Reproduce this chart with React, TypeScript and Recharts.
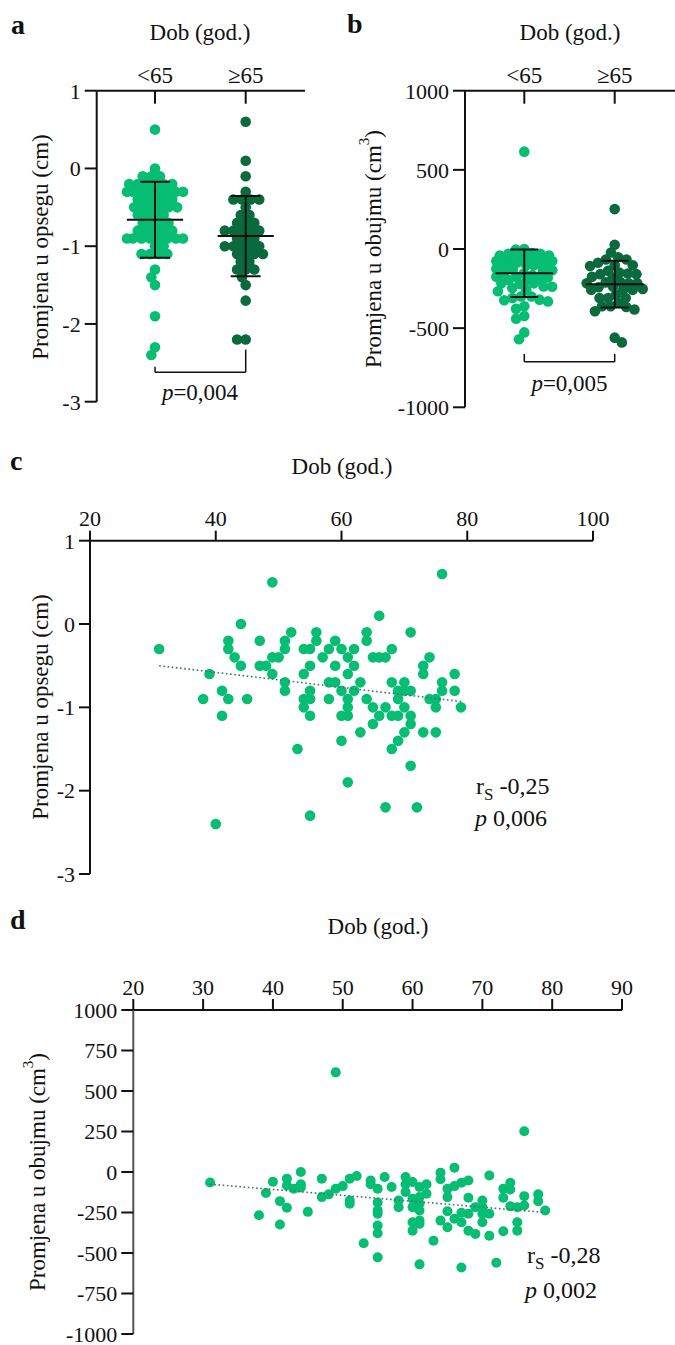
import React from 'react';
import { ScatterChart, Scatter, XAxis, YAxis } from 'recharts';

const FONT = "'Liberation Serif', 'DejaVu Serif', 'Times New Roman', serif";
const LIGHT = '#06bd74';
const DARK = '#0a693d';
const INK = '#111111';
const TREND = '#3c7566';

// ---- categories ----
const groupLabels = ['<65', '≥65'];
const ageCutoff = 65;

// ---- panel c / a : change in circumference (cm) vs age ----
const circAges = [
  31, 38, 39, 40, 41, 41, 42, 42, 42, 43, 44, 44, 45, 47, 47, 48, 49, 49, 49, 50,
  51, 51, 51, 51, 52, 53, 54, 54, 54, 54, 55, 55, 55, 55, 55, 55, 56, 56, 57, 58,
  58, 58, 59, 59, 59, 60, 60, 60, 60, 61, 61, 61, 61, 61, 61, 62, 62, 62, 63, 63,
  64, 64, 64, 65, 65, 65, 66, 66, 66, 67, 67, 67, 68, 68, 68, 68, 69, 69, 69, 69,
  70, 70, 70, 70, 71, 71, 71, 71, 71, 72, 73, 73, 73, 74, 74, 75, 75, 75, 76, 76,
  76, 78, 78, 79,
];
const circChange = [
  -0.3, -0.9, -0.6, -2.4, -0.8, -1.1, -0.2, -0.3, -0.9, -0.4, 0.0, -0.5, -0.9, -0.2, -0.5, -0.5, 0.5, -0.4, -0.6, -0.4,
  -0.2, -0.3, -0.7, -0.8, -0.1, -1.5, -0.3, -0.6, -0.9, -1.0, -0.3, -0.5, -0.8, -0.9, -1.1, -2.3, -0.1, -0.2, -0.4, -0.3,
  -0.7, -0.9, -0.2, -0.5, -0.7, -0.3, -0.8, -1.1, -1.4, -0.4, -0.6, -0.9, -1.0, -1.1, -1.9, -0.3, -0.5, -0.8, -0.7, -1.3,
  -0.1, -0.2, -0.9, -0.4, -1.0, -1.2, 0.1, -0.4, -1.1, -0.4, -1.0, -2.2, -0.3, -0.7, -1.1, -1.5, -0.8, -0.9, -1.1, -1.4,
  -0.7, -0.8, -1.0, -1.3, -0.1, -0.8, -1.1, -1.2, -1.7, -2.2, -0.5, -0.6, -1.3, -0.4, -0.9, -0.9, -1.0, -1.3, 0.6, -0.7,
  -0.8, -0.6, -0.8, -1.0,
];

// ---- panel d / b : change in volume (cm3) vs age ----
const volAges = [
  31, 38, 39, 40, 41, 41, 42, 42, 42, 43, 44, 44, 44, 45, 47, 47, 48, 49, 49, 50,
  51, 51, 51, 52, 53, 54, 54, 55, 55, 55, 55, 55, 55, 55, 56, 57, 58, 58, 59, 59,
  59, 60, 60, 60, 60, 60, 61, 61, 61, 61, 61, 61, 61, 62, 62, 63, 64, 64, 64, 65,
  65, 65, 65, 66, 66, 66, 67, 67, 67, 67, 68, 68, 68, 68, 69, 69, 70, 70, 70, 70,
  71, 71, 71, 72, 73, 73, 73, 74, 74, 74, 75, 75, 75, 76, 76, 76, 78, 78, 79,
];
const volChange = [
  -65, -267, -130, -60, -180, -324, -41, -83, -221, -103, 0, -76, -95, -246, -41, -155, -138, 615, -103, -87,
  -41, -176, -196, -25, -440, -76, -52, -103, -188, -237, -257, -331, -378, -527, -31, -93, -176, -217, -31, -76,
  -124, -62, -165, -217, -310, -362, -93, -155, -196, -238, -300, -320, -570, -76, -134, -424, -4, -45, -300, -103,
  -155, -242, -341, 27, -87, -289, -66, -252, -310, -590, -52, -159, -258, -362, -217, -382, -176, -217, -258, -310,
  -22, -258, -393, -560, -103, -159, -366, -66, -108, -211, -217, -310, -362, 252, -149, -207, -138, -180, -238,
];

// ---- summary statistics ----
const circGroupMean = [-0.66, -0.87];
const circGroupSD = [0.49, 0.515];
const volGroupMean = [-153, -222];
const volGroupSD = [150, 148];

// ---- regression (trend) lines ----
const circTrendAges = [31, 79];
const circTrendValues = [-0.5, -0.93];
const volTrendAges = [31, 79];
const volTrendValues = [-75, -250];

// ---- significance brackets: [bar level, left end, right end] ----
const circBracket = [-2.62, -2.55, -2.33];
const volBracket = [-712, -663, -663];

// ---- tick values ----
const circTicks = [1, 0, -1, -2, -3];
const volTicksB = [1000, 500, 0, -500, -1000];
const ageTicksC = [20, 40, 60, 80, 100];
const ageTicksD = [20, 30, 40, 50, 60, 70, 80, 90];
const volTicksD = [1000, 750, 500, 250, 0, -250, -500, -750, -1000];

// ---- beeswarm layout (pixel based collision avoidance, capped width) ----
function swarm(values: number[], pxPerY: number, pxPerX: number, dist: number, maxHalf: number): number[] {
  const order = values.map((_, i) => i).sort((a, b) => values[b] - values[a]);
  const placed: { x: number; y: number }[] = [];
  const out: number[] = new Array(values.length).fill(0);
  let flip = 1;
  for (const i of order) {
    const y = values[i] * pxPerY;
    const cands: number[] = [0];
    for (const q of placed) {
      const dy = Math.abs(y - q.y);
      if (dy < dist) {
        const dx = Math.sqrt(dist * dist - dy * dy) + 0.01;
        cands.push(q.x + dx, q.x - dx);
      }
    }
    cands.sort((a, b) => Math.abs(a) - Math.abs(b) || (a - b) * flip);
    flip = -flip;
    let best: number | null = null;
    for (const c of cands) {
      if (Math.abs(c) > maxHalf) continue;
      let ok = true;
      for (const q of placed) {
        const ddx = c - q.x;
        const ddy = y - q.y;
        if (ddx * ddx + ddy * ddy < dist * dist - 0.05) {
          ok = false;
          break;
        }
      }
      if (ok) {
        best = c;
        break;
      }
    }
    if (best === null) {
      let bestScore = -1;
      let bestC = 0;
      for (let c = -maxHalf; c <= maxHalf + 0.001; c += 0.5) {
        let md = Infinity;
        for (const q of placed) {
          const d = (c - q.x) ** 2 + (y - q.y) ** 2;
          if (d < md) md = d;
        }
        if (md > bestScore + 1e-6 || (Math.abs(md - bestScore) < 1e-6 && Math.abs(c) < Math.abs(bestC))) {
          bestScore = md;
          bestC = c;
        }
      }
      best = bestC;
    }
    placed.push({ x: best, y });
    out[i] = best / pxPerX;
  }
  return out;
}

function buildGroups(ages: number[], vals: number[], pxY: number, pxX: number, dist: number, maxHalf: number) {
  return groupLabels.map((_, g) => {
    const v = vals.filter((__, i) => (g === 0 ? ages[i] < ageCutoff : ages[i] >= ageCutoff));
    const off = swarm(v, pxY, pxX, dist, maxHalf);
    return v.map((y, i) => ({ x: g + off[i], y }));
  });
}

const circGroups = buildGroups(circAges, circChange, 77.75, 90.7, 8.6, 28);
const volGroups = buildGroups(volAges, volChange, 0.1583, 90.4, 8.6, 28);
const circPoints = circAges.map((a, i) => ({ x: a, y: circChange[i] }));
const volPoints = volAges.map((a, i) => ({ x: a, y: volChange[i] }));
const groupIdx = groupLabels.map((_, i) => i);

const dot = (fill: string, r: number) => (p: any) =>
  p.cx == null ? <g /> : <circle cx={p.cx} cy={p.cy} r={r} fill={fill} />;
const noDot = () => <g />;

const CatTick = (props: any) => {
  const { x, y, payload } = props;
  return (
    <g>
      <line x1={x} y1={y} x2={x} y2={y + 13} stroke={INK} strokeWidth={2} />
      <text x={x} y={y - 8} textAnchor="middle" fontFamily={FONT} style={{ fontFamily: FONT }} fontSize={23} fill={INK}>
        {groupLabels[payload.value]}
      </text>
    </g>
  );
};

const axisStyle = { stroke: INK, strokeWidth: 2 };
const tickStyle = { fill: INK, fontSize: 22, fontFamily: FONT, style: { fontFamily: FONT } };

type Pt = { x: number; y: number };
// a segment drawn as a two-point Scatter line (through the chart's scales), no markers
const seg = (key: string, a: Pt, b: Pt, stroke: string, width: number, dash?: string) => (
  <Scatter key={key} data={[a, b]} line={{ stroke, strokeWidth: width, strokeDasharray: dash }} shape={noDot}
    isAnimationActive={false} />
);

function meanSd(means: number[], sds: number[], halfMean: number, halfCap: number) {
  return means.flatMap((m, g) => [
    seg(`m${g}`, { x: g - halfMean, y: m }, { x: g + halfMean, y: m }, INK, 2),
    seg(`v${g}`, { x: g, y: m - sds[g] }, { x: g, y: m + sds[g] }, INK, 2),
    seg(`t${g}`, { x: g - halfCap, y: m + sds[g] }, { x: g + halfCap, y: m + sds[g] }, INK, 2),
    seg(`b${g}`, { x: g - halfCap, y: m - sds[g] }, { x: g + halfCap, y: m - sds[g] }, INK, 2),
  ]);
}

function bracket(b: number[]) {
  return [
    seg('bh', { x: 0, y: b[0] }, { x: 1, y: b[0] }, INK, 1.5),
    seg('bl', { x: 0, y: b[0] }, { x: 0, y: b[1] }, INK, 1.5),
    seg('br', { x: 1, y: b[0] }, { x: 1, y: b[2] }, INK, 1.5),
  ];
}

const T = (p: any) => <text fontFamily={FONT} style={{ fontFamily: FONT }} fill={INK} {...p} />;

export default function App() {
  return (
    <div style={{ position: 'absolute', left: 0, top: 0, width: 675, height: 1345, background: '#fff', fontFamily: FONT }}>
      {/* panel a */}
      <div style={{ position: 'absolute', left: 0, top: 0 }}>
        <ScatterChart width={340} height={430} margin={{ top: 0, right: 35, bottom: 28.3, left: 0 }}>
          <XAxis type="number" dataKey="x" orientation="top" domain={[-0.643, 1.654]} ticks={groupIdx} height={90.7}
            tickSize={0} tickMargin={0} tickLine={false} axisLine={axisStyle} tick={CatTick} interval={0} allowDataOverflow />
          <YAxis type="number" dataKey="y" domain={[-3, 1]} ticks={circTicks} width={96.7} tickSize={12} tickMargin={4}
            axisLine={axisStyle} tickLine={axisStyle} tick={tickStyle} interval={0} allowDataOverflow />
          <Scatter data={circGroups[0]} shape={dot(LIGHT, 5.3)} isAnimationActive={false} />
          <Scatter data={circGroups[1]} shape={dot(DARK, 5.3)} isAnimationActive={false} />
          {meanSd(circGroupMean, circGroupSD, 0.31, 0.165)}
          {bracket(circBracket)}
        </ScatterChart>
      </div>
      {/* panel b */}
      <div style={{ position: 'absolute', left: 340, top: 0 }}>
        <ScatterChart width={335} height={430} margin={{ top: 0, right: 0, bottom: 22.7, left: 0 }}>
          <XAxis type="number" dataKey="x" orientation="top" domain={[-0.656, 1.667]} ticks={groupIdx} height={90.7}
            tickSize={0} tickMargin={0} tickLine={false} axisLine={axisStyle} tick={CatTick} interval={0} allowDataOverflow />
          <YAxis type="number" dataKey="y" domain={[-1000, 1000]} ticks={volTicksB} width={125} tickSize={12} tickMargin={4}
            axisLine={axisStyle} tickLine={axisStyle} tick={tickStyle} interval={0} allowDataOverflow />
          <Scatter data={volGroups[0]} shape={dot(LIGHT, 5.3)} isAnimationActive={false} />
          <Scatter data={volGroups[1]} shape={dot(DARK, 5.3)} isAnimationActive={false} />
          {meanSd(volGroupMean, volGroupSD, 0.32, 0.155)}
          {bracket(volBracket)}
        </ScatterChart>
      </div>
      {/* panel c */}
      <div style={{ position: 'absolute', left: 0, top: 440 }}>
        <ScatterChart width={675} height={455} margin={{ top: 0, right: 82, bottom: 21, left: 0 }}>
          <XAxis type="number" dataKey="x" orientation="top" domain={[20, 100]} ticks={ageTicksC} height={100.7}
            tickSize={10} tickMargin={5} axisLine={axisStyle} tickLine={axisStyle} tick={tickStyle} interval={0} allowDataOverflow />
          <YAxis type="number" dataKey="y" domain={[-3, 1]} ticks={circTicks} width={90} tickSize={11} tickMargin={4}
            axisLine={axisStyle} tickLine={axisStyle} tick={tickStyle} interval={0} allowDataOverflow />
          <Scatter data={circPoints} shape={dot(LIGHT, 5.3)} isAnimationActive={false} />
          {seg('trendC', { x: circTrendAges[0], y: circTrendValues[0] }, { x: circTrendAges[1], y: circTrendValues[1] }, TREND, 1.6, '1.6 2.6')}
        </ScatterChart>
      </div>
      {/* panel d */}
      <div style={{ position: 'absolute', left: 0, top: 900 }}>
        <ScatterChart width={675} height={445} margin={{ top: 0, right: 53, bottom: 11, left: 0 }}>
          <XAxis type="number" dataKey="x" orientation="top" domain={[20, 90]} ticks={ageTicksD} height={110}
            tickSize={11} tickMargin={4} axisLine={axisStyle} tickLine={axisStyle} tick={tickStyle} interval={0} allowDataOverflow />
          <YAxis type="number" dataKey="y" domain={[-1000, 1000]} ticks={volTicksD} width={133.3} tickSize={12} tickMargin={4}
            axisLine={{ stroke: '#555', strokeWidth: 2 }} tickLine={axisStyle} tick={tickStyle} interval={0} allowDataOverflow />
          <Scatter data={volPoints} shape={dot(LIGHT, 5)} isAnimationActive={false} />
          {seg('trendD', { x: volTrendAges[0], y: volTrendValues[0] }, { x: volTrendAges[1], y: volTrendValues[1] }, TREND, 1.6, '1.6 2.6')}
        </ScatterChart>
      </div>
      {/* text overlay */}
      <svg width={675} height={1345} style={{ position: 'absolute', left: 0, top: 0, pointerEvents: 'none' }}>
        <T x={11} y={34} fontSize={28} fontWeight="bold">a</T>
        <T x={347} y={33} fontSize={28} fontWeight="bold">b</T>
        <T x={10} y={470} fontSize={28} fontWeight="bold">c</T>
        <T x={10} y={929} fontSize={28} fontWeight="bold">d</T>

        <T x={200} y={40} fontSize={23} textAnchor="middle">Dob (god.)</T>
        <T x={570} y={40} fontSize={23} textAnchor="middle">Dob (god.)</T>
        <T x={342} y={474} fontSize={23} textAnchor="middle">Dob (god.)</T>
        <T x={378} y={934} fontSize={23} textAnchor="middle">Dob (god.)</T>

        <T x={40} y={247} fontSize={23} textAnchor="middle" dominantBaseline="central" transform="rotate(-90 40 247)">
          Promjena u opsegu (cm)
        </T>
        <T x={373} y={249} fontSize={23} textAnchor="middle" dominantBaseline="central" transform="rotate(-90 373 249)">
          Promjena u obujmu (cm<tspan dy={-9} fontSize={15}>3</tspan><tspan dy={9}>)</tspan>
        </T>
        <T x={40} y={707} fontSize={23} textAnchor="middle" dominantBaseline="central" transform="rotate(-90 40 707)">
          Promjena u opsegu (cm)
        </T>
        <T x={37} y={1172} fontSize={23} textAnchor="middle" dominantBaseline="central" transform="rotate(-90 37 1172)">
          Promjena u obujmu (cm<tspan dy={-9} fontSize={15}>3</tspan><tspan dy={9}>)</tspan>
        </T>

        <T x={200} y={400} fontSize={23} textAnchor="middle">
          <tspan fontStyle="italic">p</tspan>=0,004
        </T>
        <T x={569.5} y={391} fontSize={23} textAnchor="middle">
          <tspan fontStyle="italic">p</tspan>=0,005
        </T>

        <T x={476} y={794} fontSize={24}>
          r<tspan dy={6} fontSize={17}>S</tspan><tspan dy={-6}> -0,25</tspan>
        </T>
        <T x={475} y={826} fontSize={24}>
          <tspan fontStyle="italic">p</tspan> 0,006
        </T>
        <T x={527} y={1263} fontSize={24}>
          r<tspan dy={6} fontSize={17}>S</tspan><tspan dy={-6}> -0,28</tspan>
        </T>
        <T x={525} y={1298} fontSize={24}>
          <tspan fontStyle="italic">p</tspan> 0,002
        </T>
      </svg>
    </div>
  );
}
